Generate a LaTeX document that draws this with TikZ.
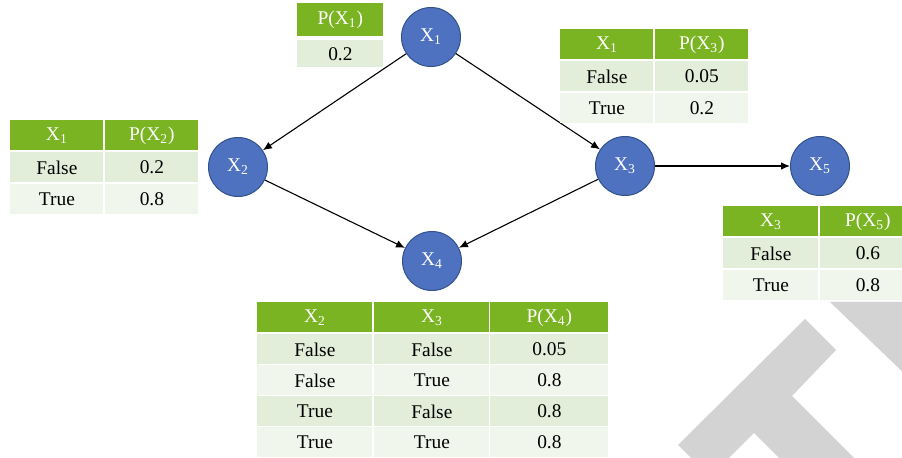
\documentclass[tikz,border=0pt]{standalone}
\usepackage{fontspec}
\setmainfont{Liberation Serif}
\usepackage{tikz}
\usetikzlibrary{arrows.meta}

\definecolor{varfill}{RGB}{78,114,192}
\definecolor{varline}{RGB}{50,82,140}
\definecolor{cpthead}{RGB}{122,180,34}
\definecolor{cptodd}{RGB}{226,238,217}
\definecolor{cpteven}{RGB}{241,246,237}
\definecolor{wmark}{RGB}{211,211,211}

\tikzset{
  var/.style={circle, draw=varline, line width=0.5pt, fill=varfill, text=white,
    minimum size=29.5pt, inner sep=0pt},
  link/.style={draw=black, line width=0.55pt, -{Latex[length=4.5pt,width=3.8pt]}},
  tab/.style={anchor=north west, inner sep=0pt, minimum height=15pt},
  head/.style={tab, fill=cpthead, text=white},
  odd/.style={tab, fill=cptodd},
  even/.style={tab, fill=cpteven}
}

\begin{document}
\begin{tikzpicture}[x=0.5pt, y=-0.5pt, font=\fontsize{9.7}{12}\selectfont]
  \useasboundingbox (0,0) rectangle (902,458);
  \clip (0,0) rectangle (902,458);

  % grey letters in the lower right corner
  \fill[wmark] (805,319) -- (836,350) -- (792,396) -- (855,459) -- (780,459)
    -- (754,433) -- (728,459) -- (692,459) -- (678,445) -- cycle;
  \fill[wmark] (830,302) -- (910,302) -- (910,379) -- cycle;

  % variables
  \node[var] (x1) at (431,37) {X\textsubscript{1}};
  \node[var] (x2) at (238,167) {X\textsubscript{2}};
  \node[var] (x3) at (625,166) {X\textsubscript{3}};
  \node[var] (x4) at (432,261) {X\textsubscript{4}};
  \node[var] (x5) at (820,166) {X\textsubscript{5}};

  \draw[link] (x1) -- (x2);
  \draw[link] (x1) -- (x3);
  \draw[link] (x2) -- (x4);
  \draw[link] (x3) -- (x4);
  \draw[link] (x3) -- (x5);

  % P(X1)
  \node[head, minimum width=43pt, minimum height=16.5pt] (t1h) at (297,3) {P(X\textsubscript{1})};
  \node[odd, minimum width=43pt, minimum height=13.5pt] (t1r) at (297,40) {0.2};

  % P(X2 | X1)
  \node[head, minimum width=46.5pt] (t2h1) at (10,120) {X\textsubscript{1}};
  \node[head, minimum width=46.5pt] (t2h2) at (105,120) {P(X\textsubscript{2})};
  \node[odd, minimum width=46.5pt] (t2a1) at (10,152) {False};
  \node[odd, minimum width=46.5pt] (t2b1) at (105,152) {0.2};
  \node[even, minimum width=46.5pt] (t2a2) at (10,184) {True};
  \node[even, minimum width=46.5pt] (t2b2) at (105,184) {0.8};

  % P(X3 | X1)
  \node[head, minimum width=46.5pt] (t3h1) at (560,29) {X\textsubscript{1}};
  \node[head, minimum width=46.5pt] (t3h2) at (655,29) {P(X\textsubscript{3})};
  \node[odd, minimum width=46.5pt] (t3a1) at (560,61) {False};
  \node[odd, minimum width=46.5pt] (t3b1) at (655,61) {0.05};
  \node[even, minimum width=46.5pt] (t3a2) at (560,93) {True};
  \node[even, minimum width=46.5pt] (t3b2) at (655,93) {0.2};

  % P(X5 | X3)
  \node[head, minimum width=47.5pt] (t5h1) at (723,206) {X\textsubscript{3}};
  \node[head, minimum width=47.5pt] (t5h2) at (820,206) {P(X\textsubscript{5})};
  \node[odd, minimum width=47.5pt] (t5a1) at (723,238) {False};
  \node[odd, minimum width=47.5pt] (t5b1) at (820,238) {0.6};
  \node[even, minimum width=47.5pt] (t5a2) at (723,270) {True};
  \node[even, minimum width=47.5pt] (t5b2) at (820,270) {0.8};

  % P(X4 | X2, X3)
  \node[head, minimum width=57.5pt] (t4h1) at (257,302) {X\textsubscript{2}};
  \node[head, minimum width=57.5pt] (t4h2) at (374,302) {X\textsubscript{3}};
  \node[head, minimum width=59pt] (t4h3) at (490,302) {P(X\textsubscript{4})};
  \foreach \a/\b/\p/\s [count=\i from 0] in
      {False/False/0.05/odd, False/True/0.8/even, True/False/0.8/odd, True/True/0.8/even} {
    \node[\s, minimum width=57.5pt] (t4a\i) at (257,{334+31*\i}) {\a};
    \node[\s, minimum width=57.5pt] (t4b\i) at (374,{334+31*\i}) {\b};
    \node[\s, minimum width=59pt] (t4c\i) at (490,{334+31*\i}) {\p};
  }
\end{tikzpicture}
\end{document}
